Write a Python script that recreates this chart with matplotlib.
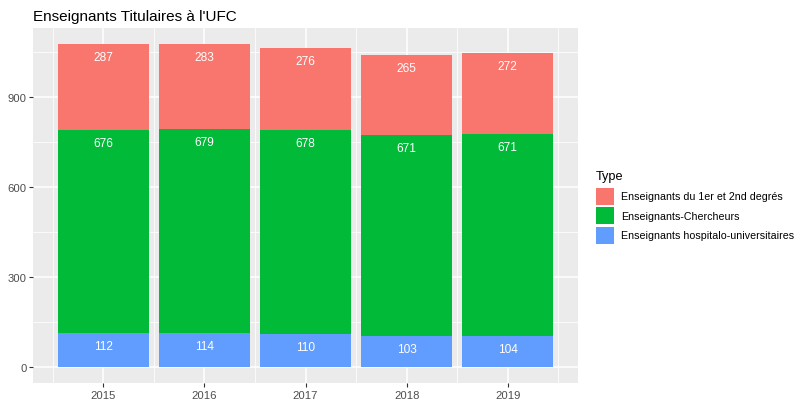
import numpy as np
import matplotlib
matplotlib.use("Agg")
import matplotlib.pyplot as plt
from matplotlib.patches import Rectangle

plt.rcParams["font.family"] = ["Liberation Sans", "DejaVu Sans"]

years = [2015, 2016, 2017, 2018, 2019]
hospit = [112, 114, 110, 103, 104]
chercheurs = [676, 679, 678, 671, 671]
degres = [287, 283, 276, 265, 272]

types = ["Enseignants du 1er et 2nd degrés", "Enseignants-Chercheurs",
         "Enseignants hospitalo-universitaires"]
colors = ["#F8766D", "#00BA38", "#619CFF"]

W, H = 795, 402
fig = plt.figure(figsize=(W/100, H/100), dpi=100)
ax = fig.add_axes([33/W, 1-384/H, (578-33)/W, (384-29)/H])
ax.set_facecolor("#EBEBEB")
for s in ax.spines.values():
    s.set_visible(False)

x = np.array(years, dtype=float)
stacks = [hospit, chercheurs, degres]
cols = [colors[2], colors[1], colors[0]]
bottom = np.zeros(len(years))
for vals, c in zip(stacks, cols):
    vals = np.array(vals, dtype=float)
    ax.bar(x, vals, width=0.9, bottom=bottom, color=c, zorder=3, linewidth=0)
    tops = bottom + vals
    for xi, t, v in zip(x, tops, vals):
        ax.annotate(str(int(v)), (xi, t), xytext=(0, -9.4), textcoords="offset points",
                    ha="center", va="center", color="white", fontsize=8.6, zorder=4)
    bottom = tops

ax.set_xlim(2014.305, 2019.695)
ax.set_ylim(-54, 1129)
ax.set_xticks(years)
ax.set_xticks(np.arange(2014.5, 2020, 1.0), minor=True)
ax.set_yticks([0, 300, 600, 900])
ax.set_yticks([150, 450, 750, 1050], minor=True)
ax.grid(which="major", color="white", linewidth=1.1, zorder=0)
ax.grid(which="minor", color="white", linewidth=0.55, zorder=0)
ax.set_axisbelow(True)
ax.tick_params(which="major", length=2.7, width=0.8, color="#333333",
               labelcolor="#4D4D4D", labelsize=8.1, pad=2)
ax.tick_params(which="minor", length=0)

ax.set_title("Enseignants Titulaires à l'UFC", loc="left", fontsize=11, pad=6, x=0)

# legend, drawn by hand (ggplot-like keys)
fig.text(596/W, 1-177/H, "Type", fontsize=9.2, ha="left", va="center")
for i, (lab, c) in enumerate(zip(types, colors)):
    yc = 197.5 + i*19.3
    fig.add_artist(Rectangle((596/W, 1-(yc+8.6)/H), 17.5/W, 17.2/H,
                             transform=fig.transFigure, facecolor=c, edgecolor="none"))
    fig.text(621/W, 1-yc/H, lab, fontsize=7.62, ha="left", va="center")

fig.savefig("out.png", dpi=100)
